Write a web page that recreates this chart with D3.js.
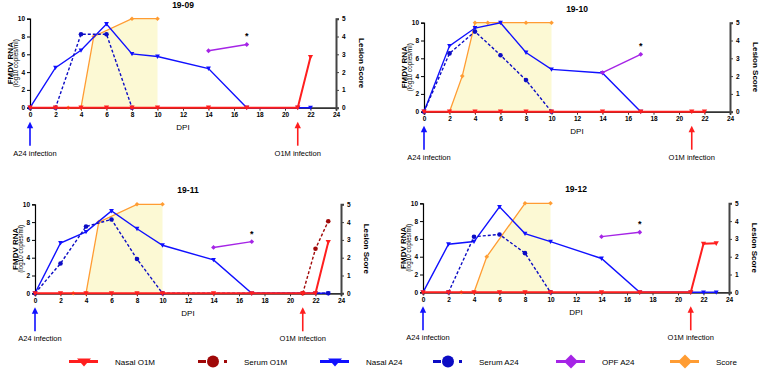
<!DOCTYPE html>
<html>
<head>
<meta charset="utf-8">
<script src="https://cdn.jsdelivr.net/npm/d3@7"></script>
<style>
  body { margin: 0; background: #fff; }
  text { font-family: "Liberation Sans", Arial, sans-serif; fill: #000; }
</style>
</head>
<body>
<div id="chart"></div>
<script>
// ---- data (one entry per animal: 19-09, 19-10, 19-11, 19-12) ----
var titles = ["19-09", "19-10", "19-11", "19-12"];
var dpiTicks = [0, 2, 4, 6, 8, 10, 12, 14, 16, 18, 20, 22, 24];
var rnaTicks = [0, 2, 4, 6, 8, 10];
var scoreTicks = [0, 1, 2, 3, 4, 5];

// [dpi, log10 copies/ml]
var nasalO1M = [
    [[0,0],[2,0],[4,0],[6,0],[8,0],[10,0],[14,0],[17,0],[21,0],[22,5.7]],
    [[0,0],[2,0],[4,0],[6,0],[8,0],[10,0],[14,0],[17,0],[21,0],[22,0]],
    [[0,0],[2,0],[4,0],[6,0],[8,0],[10,0],[14,0],[17,0],[21,0],[22,0],[23,5.75]],
    [[0,0],[2,0],[4,0],[6,0],[8,0],[10,0],[14,0],[17,0],[21,0],[22,5.45],[23,5.5]]
];
var serumO1M = [
    [],
    [],
    [[21,0],[22,5.0],[23,8.1]],
    []
];
var nasalA24 = [
    [[0,0],[2,4.5],[4,6.45],[6,9.4],[8,6.05],[10,5.75],[14,4.4],[17,0],[21,0],[22,0]],
    [[0,0],[2,7.4],[4,9.4],[6,10],[8,6.65],[10,4.75],[14,4.35],[17,0]],
    [[0,0],[2,5.65],[4,6.9],[6,9.25],[8,7.25],[10,5.4],[14,3.75],[17,0],[22,0],[23,0]],
    [[0,0],[2,5.4],[4,5.7],[6,9.6],[8,6.6],[10,5.7],[14,3.8],[17,0],[21,0],[22,0],[23,0]]
];
var serumA24 = [
    [[0,0],[2,0],[4,8.25],[6,8.25],[8,0]],
    [[0,0],[2,6.55],[4,9.0],[6,6.35],[8,3.55],[10,0]],
    [[0,0],[2,3.35],[4,7.5],[6,8.3],[8,3.85],[10,0],[23,0]],
    [[2,0],[4,6.25],[6,6.5],[8,4.4],[10,0]]
];
var opfA24 = [
    [[14,6.4],[17,7.1]],
    [[14,4.4],[17,6.45]],
    [[14,5.15],[17,5.8]],
    [[14,6.25],[17,6.75]]
];
// [dpi, lesion score]
var lesionScore = [
    [[3,0],[4,0],[5,4],[8,5],[10,5]],
    [[2,0],[3,2],[4,5],[5,5],[6,5],[8,5],[10,5]],
    [[3,0],[4,0],[5,4],[8,5],[10,5]],
    [[3,0],[4,0],[5,2],[8,5],[10,5]]
];
var infectionDays = [0, 21];
var infectionLabels = ["A24 infection", "O1M infection"];
var legendLabels = ["Nasal O1M", "Serum O1M", "Nasal A24", "Serum A24", "OPF A24", "Score"];

// ---- layout ----
var W = 760, H = 370;
var plotW = 306, plotH = 89;
var panelPos = [{x: 30, y: 18.7}, {x: 424, y: 22.7}, {x: 35, y: 204.3}, {x: 423, y: 203.3}];
var red = "#ff1e1e", darkRed = "#a00808", blue = "#1010ff", navy = "#0c0cc4",
    purple = "#a524e6", orange = "#ff9c33", shade = "#fcf9d4";

var svg = d3.select("#chart").append("svg")
    .attr("width", W)
    .attr("height", H);

var xScale = d3.scaleLinear().domain([0, 24]).range([0, plotW]);
var yScale = d3.scaleLinear().domain([0, 10]).range([plotH, 0]);
var yScaleR = d3.scaleLinear().domain([0, 5]).range([plotH, 0]);

var triDown = function(s) { return "M" + (-s) + "," + (-s*0.8) + "L" + s + "," + (-s*0.8) + "L0," + (s*1.0) + "Z"; };
var diamond = function(s) { return "M0," + (-s) + "L" + s + ",0L0," + s + "L" + (-s) + ",0Z"; };

function drawSeries(g, data, scale, color, width, dash, marker) {
    if (data.length === 0) return;
    var line = d3.line()
        .x(function(d) { return xScale(d[0]); })
        .y(function(d) { return scale(d[1]); });
    g.append("path")
        .attr("d", line(data))
        .attr("fill", "none")
        .attr("stroke", color)
        .attr("stroke-width", width)
        .attr("stroke-dasharray", dash);
    var pts = g.append("g");
    data.forEach(function(d) {
        var cx = xScale(d[0]), cy = scale(d[1]);
        if (marker.type === "circle") {
            pts.append("circle").attr("cx", cx).attr("cy", cy).attr("r", marker.size).attr("fill", color);
        } else {
            var p = marker.type === "tri" ? triDown(marker.size) : diamond(marker.size);
            pts.append("path").attr("d", p).attr("transform", "translate(" + cx + "," + cy + ")").attr("fill", color);
        }
    });
}

titles.forEach(function(title, i) {
    var pos = panelPos[i];
    var g = svg.append("g").attr("transform", "translate(" + pos.x + "," + pos.y + ")");

    // lesion score shading
    var area = d3.area()
        .x(function(d) { return xScale(d[0]); })
        .y0(yScaleR(0))
        .y1(function(d) { return yScaleR(d[1]); });
    g.append("path").attr("d", area(lesionScore[i])).attr("fill", shade);

    // axes
    var xAxis = g.append("g").attr("transform", "translate(0," + plotH + ")")
        .call(d3.axisBottom(xScale).tickValues(dpiTicks).tickSize(3).tickPadding(2));
    xAxis.select(".domain").attr("stroke", "#333").attr("stroke-width", 1.8);
    xAxis.selectAll(".tick line").attr("stroke", "#333").attr("stroke-width", 1);
    xAxis.selectAll("text").attr("font-size", 6.5).attr("font-weight", "bold");

    var yAxis = g.append("g")
        .call(d3.axisLeft(yScale).tickValues(rnaTicks).tickSize(3).tickPadding(2));
    yAxis.select(".domain").attr("stroke", "#000").attr("stroke-width", 1.2);
    yAxis.selectAll("text").attr("font-size", 6.5).attr("font-weight", "bold");

    var yAxisR = g.append("g").attr("transform", "translate(" + plotW + ",0)")
        .call(d3.axisRight(yScaleR).tickValues(scoreTicks).tickFormat(d3.format("d")).tickSize(3).tickPadding(3));
    yAxisR.select(".domain").attr("stroke", "#444").attr("stroke-width", 2);
    yAxisR.selectAll(".tick line").attr("stroke", "#444");
    yAxisR.selectAll("text").attr("font-size", 6.5).attr("font-weight", "bold");

    // series
    drawSeries(g, lesionScore[i], yScaleR, orange, 1.3, null, {type: "diamond", size: 2.3});
    drawSeries(g, nasalA24[i], yScale, blue, 1.4, null, {type: "tri", size: 2.4});
    drawSeries(g, serumA24[i], yScale, navy, 1.4, "3,2", {type: "circle", size: 2.3});
    drawSeries(g, opfA24[i], yScale, purple, 1.4, null, {type: "diamond", size: 2.4});
    drawSeries(g, serumO1M[i], yScale, darkRed, 1.4, "3,2", {type: "circle", size: 2.3});
    drawSeries(g, nasalO1M[i], yScale, red, 2, null, {type: "tri", size: 2.6});

    // significance mark
    var last = opfA24[i][opfA24[i].length - 1];
    g.append("text")
        .attr("x", xScale(last[0]))
        .attr("y", yScale(last[1]) - 5)
        .attr("text-anchor", "middle")
        .attr("font-size", 9)
        .attr("font-weight", "bold")
        .attr("fill", "#222")
        .text("*");

    // titles and labels
    g.append("text")
        .attr("x", plotW / 2)
        .attr("y", -11)
        .attr("text-anchor", "middle")
        .attr("font-size", 8.5)
        .attr("font-weight", "bold")
        .text(title);
    g.append("text")
        .attr("x", plotW / 2)
        .attr("y", plotH + 22.5)
        .attr("text-anchor", "middle")
        .attr("font-size", 8)
        .text("DPI");
    g.append("text")
        .attr("transform", "translate(-17.5," + (plotH / 2) + ") rotate(-90)")
        .attr("text-anchor", "middle")
        .attr("font-size", 8)
        .attr("font-weight", "bold")
        .text("FMDV RNA");
    g.append("text")
        .attr("transform", "translate(-12," + (plotH / 2) + ") rotate(-90)")
        .attr("text-anchor", "middle")
        .attr("font-size", 6.3)
        .text("(log10 copies/ml)");
    g.append("text")
        .attr("transform", "translate(" + (plotW + 23) + "," + (plotH / 2) + ") rotate(90)")
        .attr("text-anchor", "middle")
        .attr("font-size", 8)
        .attr("font-weight", "bold")
        .text("Lesion Score");

    // infection arrows
    infectionDays.forEach(function(day, k) {
        var ax = xScale(day);
        var col = k === 0 ? blue : red;
        g.append("line")
            .attr("x1", ax).attr("x2", ax)
            .attr("y1", plotH + 18).attr("y2", plotH + 38)
            .attr("stroke", col).attr("stroke-width", 1.6);
        g.append("path")
            .attr("d", "M" + (ax - 3.2) + "," + (plotH + 20.5) + "L" + ax + "," + (plotH + 14) + "L" + (ax + 3.2) + "," + (plotH + 20.5) + "Z")
            .attr("fill", col);
        g.append("text")
            .attr("x", ax + (k === 0 ? 5 : 0))
            .attr("y", plotH + 48)
            .attr("text-anchor", "middle")
            .attr("font-size", 7.5)
            .text(infectionLabels[k]);
    });
});

// ---- legend ----
var legendX = [69, 198, 320, 433, 556, 670];
var legendY = 361.5;
var legendStyle = [
    {color: red, dash: false, marker: "tri"},
    {color: darkRed, dash: true, marker: "circle"},
    {color: blue, dash: false, marker: "tri"},
    {color: navy, dash: true, marker: "circle"},
    {color: purple, dash: false, marker: "diamond"},
    {color: orange, dash: false, marker: "diamond"}
];
var legend = svg.append("g");
legendLabels.forEach(function(label, i) {
    var lx = legendX[i], st = legendStyle[i];
    var item = legend.append("g").attr("transform", "translate(" + lx + "," + legendY + ")");
    if (st.dash) {
        item.append("line").attr("x1", 0).attr("x2", 8).attr("y1", 0).attr("y2", 0)
            .attr("stroke", st.color).attr("stroke-width", 3);
        item.append("line").attr("x1", 26).attr("x2", 29).attr("y1", 0).attr("y2", 0)
            .attr("stroke", st.color).attr("stroke-width", 3);
        item.append("circle").attr("cx", 15).attr("cy", 0).attr("r", 6).attr("fill", st.color);
    } else {
        item.append("line").attr("x1", 0).attr("x2", 29).attr("y1", 0).attr("y2", 0)
            .attr("stroke", st.color).attr("stroke-width", 3);
        var p = st.marker === "tri"
            ? "M-7,-3L7,-3L0,5Z"
            : diamond(7);
        item.append("path").attr("d", p).attr("transform", "translate(15,0)").attr("fill", st.color);
    }
    item.append("text")
        .attr("x", 46)
        .attr("y", 3)
        .attr("font-size", 8)
        .text(label);
});
</script>
</body>
</html>
